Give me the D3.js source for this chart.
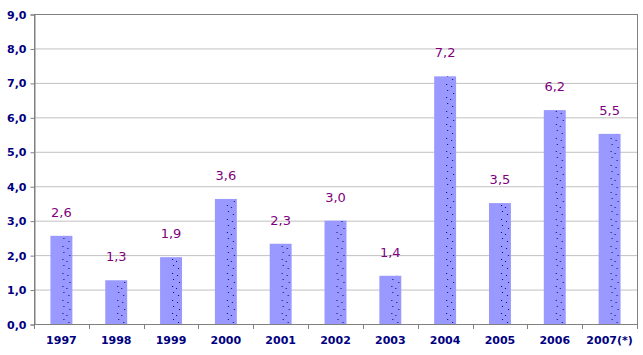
<!DOCTYPE html>
<html><head><meta charset="utf-8">
<script src="https://cdn.jsdelivr.net/npm/d3@7"></script>
<style>html,body{margin:0;padding:0;background:#fff;}svg{display:block;}</style>
</head><body>
<svg id="c" width="643" height="355"></svg>
<script>
const categories = ["1997","1998","1999","2000","2001","2002","2003","2004","2005","2006","2007(*)"];
const values = [2.56, 1.27, 1.94, 3.63, 2.33, 3.0, 1.40, 7.19, 3.51, 6.21, 5.52];
const labels = ["2,6","1,3","1,9","3,6","2,3","3,0","1,4","7,2","3,5","6,2","5,5"];
const yTicks = [0,1,2,3,4,5,6,7,8,9];

const svg = d3.select("#c");
const L = 34, R = 637, T = 14, B = 324;
const x = d3.scaleBand().domain(categories).range([L, R]).paddingInner(0.6).paddingOuter(0.3);
const y = d3.scaleLinear().domain([0, 9]).range([B, T]);
const step = x.step();

// dotted texture pattern aligned to bands
const defs = svg.append("defs");
const pat = defs.append("pattern").attr("id","dots").attr("patternUnits","userSpaceOnUse")
  .attr("x", x(categories[0])).attr("y", B).attr("width", step).attr("height", 27);
pat.append("rect").attr("width", step).attr("height", 27).attr("fill", "#9999ff");
[[12,3],[17,5],[13,9],[19,12],[12,16],[16,18],[13,22],[18,25]].forEach(d=>{
  pat.append("rect").attr("x", d[0]).attr("y", d[1]).attr("width",1).attr("height",1).attr("fill","#000080");
});

// gridlines
svg.append("g").selectAll("line").data(yTicks.filter(t=>t>0 && t<9)).join("line")
  .attr("x1", L).attr("x2", R).attr("y1", d=>y(d)+0.5).attr("y2", d=>y(d)+0.5)
  .attr("stroke", "#c0c0c0").attr("stroke-width", 1);

// bars
svg.append("g").selectAll("rect").data(values).join("rect")
  .attr("x", (d,i)=>x(categories[i])).attr("width", x.bandwidth())
  .attr("y", d=>y(d)).attr("height", d=>B - y(d))
  .attr("fill", "url(#dots)");

// frame
svg.append("rect").attr("x", L+0.5).attr("y", T+0.5).attr("width", R-L).attr("height", B-T)
  .attr("fill","none").attr("stroke","#808080").attr("stroke-width",1);

// y axis
const ya = svg.append("g").attr("transform", `translate(${L+0.5},0.5)`)
  .call(d3.axisLeft(y).tickValues(yTicks).tickSize(4).tickPadding(4).tickFormat(d=>d3.format(".1f")(d).replace(".",",")));
ya.select(".domain").attr("stroke","#808080");
ya.selectAll(".tick line").attr("stroke","#808080");
ya.selectAll("text").attr("fill","#000080").attr("font-family","DejaVu Sans, Verdana, sans-serif")
  .attr("font-size","11px").attr("font-weight","bold");

// x axis: ticks between categories
const bounds = d3.range(categories.length+1).map(i=>L + i*(R-L)/categories.length);
svg.append("g").selectAll("line").data(bounds).join("line")
  .attr("x1", d=>Math.round(d)+0.5).attr("x2", d=>Math.round(d)+0.5).attr("y1", B).attr("y2", B+5)
  .attr("stroke","#808080");
svg.append("g").selectAll("text").data(categories).join("text")
  .attr("x", d=>x(d)+x.bandwidth()/2).attr("y", 344)
  .attr("text-anchor","middle").attr("fill","#000080")
  .attr("font-family","DejaVu Sans, Verdana, sans-serif").attr("font-size","11px").attr("font-weight","bold")
  .text(d=>d);

// data labels
svg.append("g").selectAll("text").data(values).join("text")
  .attr("x", (d,i)=>x(categories[i])+x.bandwidth()/2).attr("y", d=>y(d)-19)
  .attr("text-anchor","middle").attr("fill","#800080")
  .attr("font-family","DejaVu Sans, Verdana, sans-serif").attr("font-size","13px")
  .text((d,i)=>labels[i]);
</script>
</body></html>
